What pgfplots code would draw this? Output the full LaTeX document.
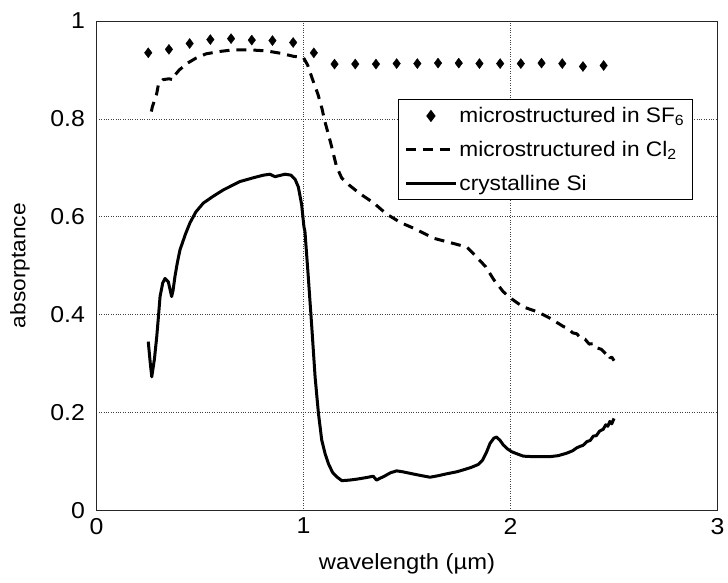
\documentclass[border=0pt]{standalone}
\usepackage{fontspec}
\setmainfont[FakeStretch=1.08]{Liberation Sans}
\usepackage{pgfplots}
\usepackage{pgfplotstable}
\pgfplotsset{compat=1.18}

\pgfplotstableread{
x y
0.25 0.935
0.35 0.942
0.45 0.954
0.55 0.962
0.65 0.964
0.75 0.961
0.85 0.960
0.95 0.956
1.05 0.935
1.15 0.912
1.25 0.912
1.35 0.912
1.45 0.913
1.55 0.913
1.65 0.914
1.75 0.914
1.85 0.913
1.95 0.913
2.05 0.913
2.15 0.914
2.25 0.913
2.35 0.907
2.45 0.909
}\sfsix

\begin{document}
\begin{tikzpicture}
\begin{axis}[
  at={(0,0)}, anchor=south west,
  scale only axis, width=621pt, height=489.5pt,
  xmin=0, xmax=3, ymin=0, ymax=1,
  xtick={0,1,2,3}, ytick={0,0.2,0.4,0.6,0.8,1},
  /pgf/number format/assume math mode=true,
  tick label style={font=\fontsize{23}{27}\selectfont},
  major tick length=0pt,
  grid=major,
  grid style={dotted, line width=0.7pt, black!75},
  axis line style={line width=0.8pt, black!85},
  yticklabel style={xshift=-8pt},
  xticklabel style={yshift=-4pt},
  xlabel={wavelength (µm)}, ylabel={absorptance},
  every axis x label/.style={at={(axis description cs:0.5,-0.1093)}, anchor=center,
    font=\fontsize{22}{26}\selectfont},
  every axis y label/.style={at={(axis description cs:-0.1232,0.5)}, rotate=90, anchor=center,
    font=\fontsize{21}{25}\selectfont},
  legend image code/.code={\draw[mark repeat=2,mark phase=2,#1] plot coordinates {(0pt,0pt) (25pt,0pt) (50pt,0pt)};},
  legend style={at={(axis cs:1.455,0.841)}, anchor=north west, draw=black,
    line width=1.5pt, font=\fontsize{21}{25}\selectfont, row sep=13pt,
    inner xsep=6pt, inner ysep=6pt, cells={anchor=west}},
]
\addplot[only marks, mark=diamond*, mark size=5pt, fill=black, draw=black]
  table {\sfsix};
\addlegendentry{microstructured in SF\textsubscript{6}}

\addplot[line width=3pt, dash pattern=on 10pt off 7pt, line join=round] coordinates {
(0.265,0.815) (0.27,0.825) (0.29,0.850) (0.30,0.872) (0.32,0.880) (0.35,0.882)
(0.37,0.880) (0.38,0.890) (0.40,0.900) (0.44,0.914) (0.48,0.924) (0.53,0.933)
(0.60,0.938) (0.66,0.941) (0.74,0.941) (0.82,0.939) (0.89,0.934) (0.95,0.928)
(1.00,0.925) (1.02,0.910) (1.04,0.885) (1.07,0.850) (1.09,0.820) (1.10,0.800)
(1.13,0.753) (1.16,0.702) (1.185,0.679) (1.22,0.665) (1.27,0.648) (1.34,0.628)
(1.40,0.606) (1.47,0.588) (1.53,0.577) (1.63,0.556) (1.72,0.546) (1.79,0.538)
(1.82,0.525) (1.88,0.498) (1.92,0.471) (1.965,0.447) (2.00,0.434) (2.06,0.416)
(2.13,0.406) (2.19,0.393) (2.255,0.376) (2.28,0.371) (2.30,0.363) (2.32,0.361)
(2.34,0.352) (2.36,0.350) (2.38,0.340) (2.40,0.341) (2.42,0.332) (2.44,0.329)
(2.46,0.320) (2.47,0.322) (2.48,0.312) (2.49,0.313) (2.50,0.306)
};
\addlegendentry{microstructured in Cl\textsubscript{2}}

\addplot[line width=3pt, line join=round] coordinates {
(0.25,0.345) (0.26,0.30) (0.267,0.273) (0.28,0.31) (0.291,0.355) (0.30,0.40)
(0.307,0.437) (0.32,0.465) (0.331,0.474) (0.347,0.467) (0.363,0.437) (0.37,0.450)
(0.379,0.478) (0.39,0.505) (0.403,0.532) (0.43,0.565) (0.452,0.588) (0.48,0.610)
(0.516,0.628) (0.564,0.642) (0.613,0.655) (0.693,0.672) (0.76,0.680) (0.806,0.685)
(0.838,0.687) (0.862,0.682) (0.911,0.687) (0.94,0.685) (0.96,0.676) (0.975,0.661)
(0.991,0.625) (1.002,0.580) (1.007,0.570) (1.023,0.478) (1.04,0.375) (1.056,0.273)
(1.072,0.199) (1.088,0.144) (1.105,0.115) (1.12,0.096) (1.14,0.078) (1.16,0.069)
(1.185,0.061) (1.22,0.062) (1.257,0.064) (1.30,0.067) (1.337,0.070) (1.353,0.062)
(1.37,0.066) (1.386,0.069) (1.42,0.077) (1.45,0.081) (1.48,0.079) (1.514,0.076)
(1.56,0.072) (1.611,0.068) (1.65,0.071) (1.692,0.075) (1.74,0.079) (1.772,0.083)
(1.81,0.088) (1.844,0.094) (1.865,0.103) (1.885,0.120) (1.901,0.137) (1.92,0.148)
(1.933,0.150) (1.95,0.143) (1.965,0.134) (1.985,0.126) (2.006,0.120) (2.03,0.116)
(2.062,0.111) (2.11,0.110) (2.16,0.110) (2.19,0.110) (2.23,0.112) (2.271,0.117)
(2.30,0.122) (2.32,0.128) (2.336,0.131) (2.35,0.133) (2.37,0.141) (2.385,0.143)
(2.40,0.152) (2.415,0.153) (2.43,0.162) (2.448,0.166) (2.46,0.175) (2.47,0.172)
(2.48,0.182) (2.489,0.177) (2.50,0.188)
};
\addlegendentry{crystalline Si}
\end{axis}
\pgfresetboundingbox
\path (-96.5pt,-72.5pt) rectangle (631.5pt,510.5pt);
\end{tikzpicture}
\end{document}
